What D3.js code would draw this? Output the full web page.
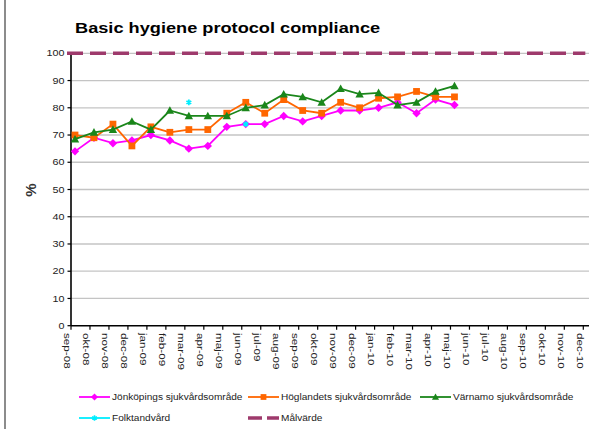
<!DOCTYPE html>
<html>
<head>
<meta charset="utf-8">
<script src="https://cdn.jsdelivr.net/npm/d3@7"></script>
<style>
  body { margin: 0; background: #fff; }
  text { font-family: "Liberation Sans", Arial, sans-serif; }
</style>
</head>
<body>
<script>
// months on the category axis
var months = ["sep-08","okt-08","nov-08","dec-08","jan-09","feb-09","mar-09","apr-09","maj-09",
              "jun-09","jul-09","aug-09","sep-09","okt-09","nov-09","dec-09","jan-10","feb-10",
              "mar-10","apr-10","maj-10","jun-10","jul-10","aug-10","sep-10","okt-10","nov-10","dec-10"];

// series values (sep-08 .. maj-10)
var jonkoping  = [64, 69, 67, 68, 70, 68, 65, 66, 73, 74, 74, 77, 75, 77, 79, 79, 80, 82, 78, 83, 81];
var hoglandet  = [70, 69, 74, 66, 73, 71, 72, 72, 78, 82, 78, 83, 79, 78, 82, 80, 83.5, 84, 86, 84, 84];
var varnamo    = [68.5, 71, 72, 75, 72, 79, 77, 77, 77, 80, 81, 85, 84, 82, 87, 85, 85.5, 81, 82, 86, 88];
var folktand   = [null, null, null, null, null, null, 82, null, null, 74];
var malvarde   = 100;

var yTicks = [0, 10, 20, 30, 40, 50, 60, 70, 80, 90, 100];

var W = 610, H = 429;

var svg = d3.select("body")
            .append("svg")
            .attr("width", W)
            .attr("height", H);

svg.append("rect").attr("width", W).attr("height", H).attr("fill", "#fff");

// grey frame line on the left
svg.append("line")
   .attr("x1", 5).attr("x2", 5).attr("y1", 0).attr("y2", H)
   .attr("stroke", "#8c8c8c").attr("stroke-width", 2);

var x = d3.scalePoint().domain(months).range([71, 583.3]);
var y = d3.scaleLinear().domain([0, 100]).range([325.7, 53.3]);
var px = function(i){ return x(months[i]) + 4; };   // markers sit a bit right of the ticks

var plotRight = 589;

// gridlines
svg.append("g").selectAll("line")
   .data(yTicks.filter(function(d){ return d > 0; }))
   .enter().append("line")
   .attr("x1", 71).attr("x2", plotRight)
   .attr("y1", function(d){ return y(d); })
   .attr("y2", function(d){ return y(d); })
   .attr("stroke", "#c4c4c4").attr("stroke-width", 1.3);

// y axis
var yAxis = svg.append("g");
yAxis.append("line")
     .attr("x1", 71).attr("x2", 71).attr("y1", y(100)).attr("y2", y(0))
     .attr("stroke", "#000").attr("stroke-width", 1.6);
yAxis.selectAll(".tk").data(yTicks).enter().append("line")
     .attr("x1", 67.5).attr("x2", 71)
     .attr("y1", function(d){ return y(d); }).attr("y2", function(d){ return y(d); })
     .attr("stroke", "#000").attr("stroke-width", 1.2);
yAxis.selectAll("text").data(yTicks).enter().append("text")
     .attr("transform", function(d){ return "translate(64.5," + y(d) + ") scale(1.2,1)"; })
     .attr("dy", "0.35em")
     .attr("text-anchor", "end")
     .attr("font-size", 9)
     .attr("fill", "#222")
     .text(function(d){ return d; });

// x axis
var xAxis = svg.append("g");
xAxis.append("line")
     .attr("x1", 71).attr("x2", plotRight).attr("y1", y(0)).attr("y2", y(0))
     .attr("stroke", "#000").attr("stroke-width", 1.6);
xAxis.selectAll(".tk").data(months).enter().append("line")
     .attr("x1", function(d){ return x(d); }).attr("x2", function(d){ return x(d); })
     .attr("y1", y(0)).attr("y2", y(0) + 4)
     .attr("stroke", "#000").attr("stroke-width", 1.2);
xAxis.selectAll("text").data(months).enter().append("text")
     .attr("transform", function(d){ return "translate(" + (x(d) - 3.5) + "," + 333 + ") rotate(90) scale(1.3,1)"; })
     .attr("dy", "0.35em")
     .attr("font-size", 9)
     .attr("fill", "#222")
     .text(function(d){ return d; });

// target line
svg.append("line")
   .attr("x1", x(months[0]) - 4).attr("x2", x(months[months.length - 1]) + 2)
   .attr("y1", y(malvarde)).attr("y2", y(malvarde))
   .attr("stroke", "#9e3a6c").attr("stroke-width", 3.6)
   .attr("stroke-dasharray", "16,7");

// marker shapes
function diamond(r){ return "M0," + (-r) + "L" + r + ",0L0," + r + "L" + (-r) + ",0Z"; }
function square(r){ return "M" + (-r) + "," + (-r) + "h" + (2*r) + "v" + (2*r) + "h" + (-2*r) + "Z"; }
function triangle(r){ return "M0," + (-r) + "L" + r + "," + (r*0.8) + "L" + (-r) + "," + (r*0.8) + "Z"; }

var series = [
  { name: "Jönköpings sjukvårdsområde", values: jonkoping, color: "#ff00ff", mark: diamond(4.2) },
  { name: "Höglandets sjukvårdsområde", values: hoglandet, color: "#ff6600", mark: square(3.4) },
  { name: "Värnamo sjukvårdsområde",    values: varnamo,   color: "#1a861a", mark: triangle(4.2) }
];

var line = d3.line()
             .defined(function(d){ return d != null; })
             .x(function(d, i){ return px(i); })
             .y(function(d){ return y(d); });

series.forEach(function(s){
  var g = svg.append("g");
  g.append("path")
   .attr("d", line(s.values))
   .attr("fill", "none")
   .attr("stroke", s.color)
   .attr("stroke-width", 1.8);
  g.selectAll("path.m")
   .data(s.values)
   .enter().append("path")
   .attr("class", "m")
   .attr("transform", function(d, i){ return "translate(" + px(i) + "," + y(d) + ")"; })
   .attr("d", s.mark)
   .attr("fill", s.color);
});

// Folktandvård: isolated points only
var star = d3.symbol().type(d3.symbolAsterisk).size(22);
svg.append("g").selectAll("path")
   .data(folktand.map(function(d, i){ return { v: d, i: i }; })
                 .filter(function(d){ return d.v != null; }))
   .enter().append("path")
   .attr("transform", function(d){ return "translate(" + px(d.i) + "," + y(d.v) + ")"; })
   .attr("d", star)
   .attr("fill", "none")
   .attr("stroke", "#00eeff")
   .attr("stroke-width", 1.8);

// title
svg.append("text")
   .attr("transform", "translate(75,33) scale(1.3,1)")
   .attr("font-size", 14)
   .attr("font-weight", "bold")
   .attr("fill", "#000")
   .text("Basic hygiene protocol compliance");

// axis title
svg.append("text")
   .attr("transform", "translate(31,190) rotate(-90)")
   .attr("text-anchor", "middle")
   .attr("dy", "0.35em")
   .attr("font-size", 15)
   .attr("font-weight", "bold")
   .attr("fill", "#333")
   .text("%");

// legend
var legend = [
  { name: series[0].name, color: series[0].color, mark: series[0].mark, x: 79,  y: 397 },
  { name: series[1].name, color: series[1].color, mark: series[1].mark, x: 248, y: 397 },
  { name: series[2].name, color: series[2].color, mark: series[2].mark, x: 420, y: 397 },
  { name: "Folktandvård", color: "#00eeff", star: true, x: 79,  y: 418 },
  { name: "Målvärde",     color: "#9e3a6c", dash: true, x: 248, y: 418 }
];

var lg = svg.append("g").selectAll("g").data(legend).enter().append("g")
            .attr("transform", function(d){ return "translate(" + d.x + "," + d.y + ")"; });
lg.append("line")
  .attr("x1", 0).attr("x2", 31).attr("y1", 0).attr("y2", 0)
  .attr("stroke", function(d){ return d.color; })
  .attr("stroke-width", function(d){ return d.dash ? 3.4 : 1.8; })
  .attr("stroke-dasharray", function(d){ return d.dash ? "14,5" : null; });
lg.filter(function(d){ return d.mark; }).append("path")
  .attr("transform", "translate(15.5,0) scale(0.85)")
  .attr("d", function(d){ return d.mark; })
  .attr("fill", function(d){ return d.color; });
lg.filter(function(d){ return d.star; }).append("path")
  .attr("transform", "translate(15.5,0)")
  .attr("d", star)
  .attr("fill", "none")
  .attr("stroke", function(d){ return d.color; })
  .attr("stroke-width", 1.6);
lg.append("text")
  .attr("transform", "translate(33,0) scale(1.12,1)")
  .attr("dy", "0.35em")
  .attr("font-size", 9)
  .attr("fill", "#222")
  .text(function(d){ return d.name; });
</script>
</body>
</html>
